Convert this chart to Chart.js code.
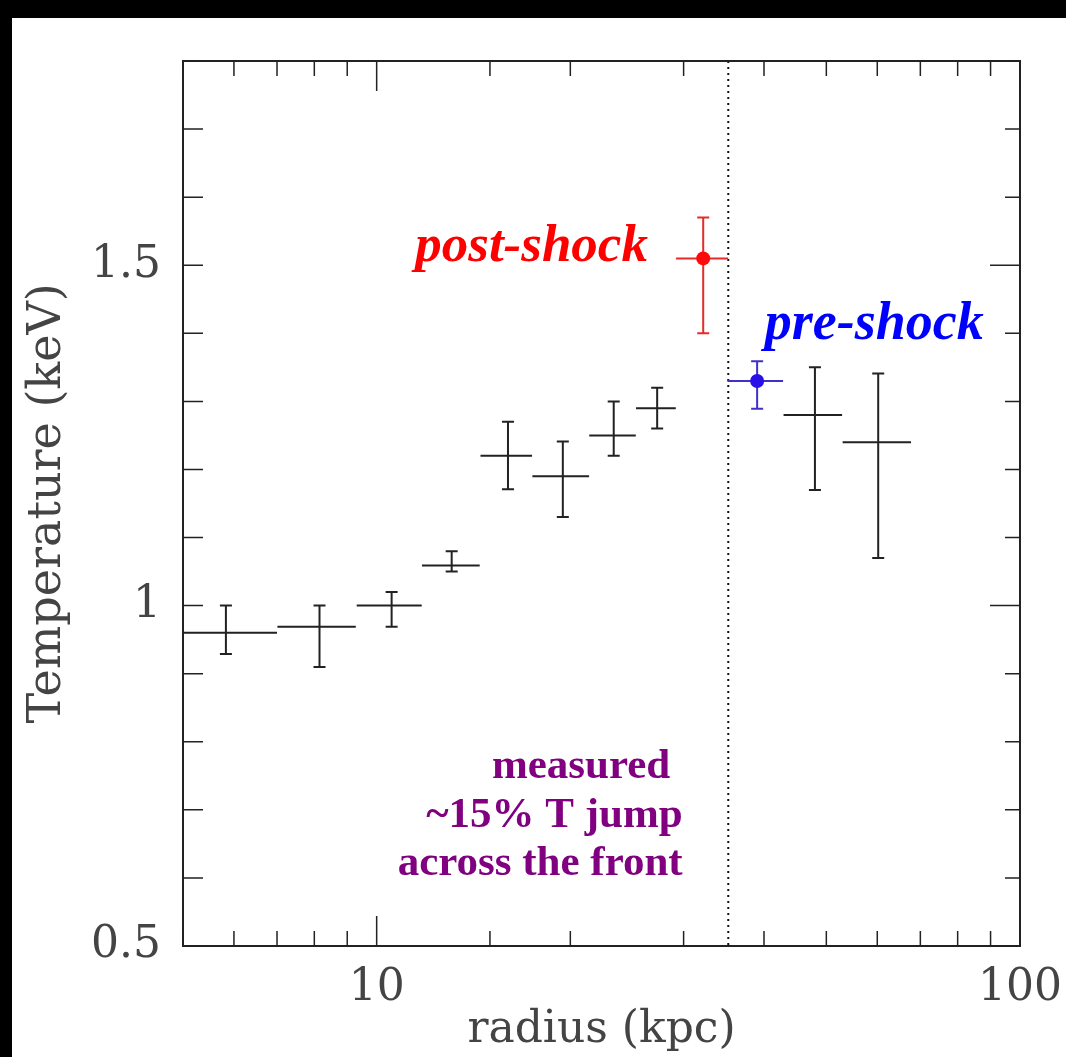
<!DOCTYPE html>
<html>
<head>
<meta charset="UTF-8">
<title>Temperature profile across the shock front</title>
<script src="https://cdn.jsdelivr.net/npm/chart.js"></script>
<style>
  html, body { margin: 0; padding: 0; background: #000; }
  canvas { display: block; }
</style>
</head>
<body>
<canvas id="tempChart" width="1066" height="1057"></canvas>
<script>
// radius (kpc) and temperature (keV) of the annuli
const radius     = [5.83, 8.15, 10.55, 13.08, 16.0, 19.47, 23.36, 27.29, 48.0, 60.2];
const radiusLow  = [4.9, 7.01, 9.31, 11.76, 14.5, 17.46, 21.4, 25.3, 42.9, 53.0];
const radiusHigh = [7.0, 9.28, 11.75, 14.46, 17.44, 21.39, 25.28, 29.17, 52.9, 67.7];
const temp       = [0.960, 0.969, 1.000, 1.059, 1.220, 1.190, 1.250, 1.290, 1.280, 1.240];
const tempLow    = [0.929, 0.910, 0.969, 1.050, 1.171, 1.130, 1.220, 1.260, 1.170, 1.070];
const tempHigh   = [1.000, 1.000, 1.020, 1.080, 1.270, 1.241, 1.300, 1.320, 1.350, 1.341];

// the two annuli on either side of the front
const postShock = { r: 32.18, rLow: 29.2, rHigh: 35.19, t: 1.51, tLow: 1.40, tHigh: 1.57 };
const preShock  = { r: 39.03, rLow: 35.1, rHigh: 42.83, t: 1.33, tLow: 1.289, tHigh: 1.359 };

const shockRadius = 35.2;
const xLabels = [10, 100];
const yLabels = [0.5, 1, 1.5];

const toPoints = (r, lo, hi, t, tlo, thi) =>
  r.map((v, i) => ({ x: v, y: t[i], xMin: lo[i], xMax: hi[i], yMin: tlo[i], yMax: thi[i] }));

const one = (p) => toPoints([p.r], [p.rLow], [p.rHigh], [p.t], [p.tLow], [p.tHigh]);

// white page with the black strip at top and left
const pageBackground = {
  id: 'pageBackground',
  beforeDraw(chart) {
    const ctx = chart.ctx;
    ctx.save();
    ctx.fillStyle = '#000';
    ctx.fillRect(0, 0, chart.width, chart.height);
    ctx.fillStyle = '#fff';
    ctx.fillRect(12, 18, chart.width - 12, chart.height - 18);
    ctx.restore();
  }
};

// crosses: horizontal bar = annulus width, vertical bar with caps = T error
const errorBars = {
  id: 'errorBars',
  beforeDatasetsDraw(chart) {
    const { ctx, chartArea: a, scales: { x, y } } = chart;
    ctx.save();
    ctx.beginPath();
    ctx.rect(a.left, a.top, a.right - a.left, a.bottom - a.top);
    ctx.clip();

    // dotted line at the shock front
    const sx = x.getPixelForValue(shockRadius);
    ctx.strokeStyle = '#111';
    ctx.lineWidth = 2;
    ctx.setLineDash([2, 4]);
    ctx.beginPath();
    ctx.moveTo(sx, a.top);
    ctx.lineTo(sx, a.bottom);
    ctx.stroke();
    ctx.setLineDash([]);

    chart.data.datasets.forEach(ds => {
      ctx.strokeStyle = ds.barColor;
      ctx.lineWidth = 2;
      ds.data.forEach(p => {
        const px = x.getPixelForValue(p.x), py = y.getPixelForValue(p.y);
        const x0 = x.getPixelForValue(p.xMin), x1 = x.getPixelForValue(p.xMax);
        const y0 = y.getPixelForValue(p.yMin), y1 = y.getPixelForValue(p.yMax);
        ctx.beginPath();
        ctx.moveTo(x0, py); ctx.lineTo(x1, py);
        ctx.moveTo(px, y0); ctx.lineTo(px, y1);
        ctx.moveTo(px - 6, y0); ctx.lineTo(px + 6, y0);
        ctx.moveTo(px - 6, y1); ctx.lineTo(px + 6, y1);
        ctx.stroke();
      });
    });
    ctx.restore();
  }
};

// frame with inward ticks on all four sides, plus the annotations
const frameAndNotes = {
  id: 'frameAndNotes',
  afterDraw(chart) {
    const { ctx, chartArea: a, scales: { x, y } } = chart;
    ctx.save();
    ctx.strokeStyle = '#222';
    ctx.lineWidth = 2;
    ctx.strokeRect(a.left, a.top, a.right - a.left, a.bottom - a.top);

    ctx.lineWidth = 1.5;
    ctx.beginPath();
    x.ticks.forEach(t => {
      const px = x.getPixelForValue(t.value);
      const len = xLabels.includes(t.value) ? 30 : 15;
      ctx.moveTo(px, a.bottom); ctx.lineTo(px, a.bottom - len);
      ctx.moveTo(px, a.top); ctx.lineTo(px, a.top + len);
    });
    y.ticks.forEach(t => {
      const py = y.getPixelForValue(t.value);
      const major = yLabels.some(v => Math.abs(v - t.value) < 1e-6);
      ctx.moveTo(a.left, py); ctx.lineTo(a.left + 20, py);
      ctx.moveTo(a.right, py); ctx.lineTo(a.right - (major ? 30 : 15), py);
    });
    ctx.stroke();

    const notes = [
      { text: 'post-shock', x: 26.4, y: 1.506, align: 'right', color: '#ff0000', font: 'italic bold 53px "Liberation Serif"' },
      { text: 'pre-shock', x: 40.1, y: 1.391, align: 'left', color: '#0000ff', font: 'italic bold 54px "Liberation Serif"' },
      { text: 'measured', x: 28.6, y: 0.747, align: 'right', color: '#800080', font: 'bold 43px "Liberation Serif"' },
      { text: '~15% T jump', x: 29.9, y: 0.675, align: 'right', color: '#800080', font: 'bold 43px "Liberation Serif"' },
      { text: 'across the front', x: 29.9, y: 0.604, align: 'right', color: '#800080', font: 'bold 43px "Liberation Serif"' }
    ];
    ctx.textBaseline = 'alphabetic';
    notes.forEach(n => {
      ctx.font = n.font;
      ctx.fillStyle = n.color;
      ctx.textAlign = n.align;
      ctx.fillText(n.text, x.getPixelForValue(n.x), y.getPixelForValue(n.y));
    });
    ctx.restore();
  }
};

const axisFont = { family: 'DejaVu Serif', size: 44, weight: 'normal' };

new Chart(document.getElementById('tempChart'), {
  type: 'scatter',
  data: {
    datasets: [
      {
        label: 'annuli',
        data: toPoints(radius, radiusLow, radiusHigh, temp, tempLow, tempHigh),
        pointRadius: 0,
        barColor: '#222'
      },
      {
        label: 'post-shock',
        data: one(postShock),
        pointRadius: 7,
        pointBackgroundColor: '#ff0a0a',
        pointBorderWidth: 0,
        barColor: '#e52a2a'
      },
      {
        label: 'pre-shock',
        data: one(preShock),
        pointRadius: 7,
        pointBackgroundColor: '#2a10e8',
        pointBorderWidth: 0,
        barColor: '#4030c8'
      }
    ]
  },
  options: {
    responsive: false,
    animation: false,
    devicePixelRatio: 1,
    layout: { padding: { top: 61, right: 46, left: 0, bottom: 0 } },
    plugins: {
      legend: { display: false },
      tooltip: { enabled: false }
    },
    scales: {
      x: {
        type: 'logarithmic',
        min: 5,
        max: 100,
        grid: { display: false, drawTicks: false },
        border: { display: false },
        ticks: {
          autoSkip: false,
          maxRotation: 0,
          padding: 16,
          color: '#444',
          font: axisFont,
          callback: (v) => xLabels.includes(v) ? String(v) : ''
        },
        title: {
          display: true,
          text: 'radius (kpc)',
          color: '#444',
          font: axisFont,
          padding: { top: 0, bottom: 0 }
        },
        afterFit: (scale) => {
          scale.height = 111;
          scale.paddingLeft = 0;
          scale.paddingRight = 0;
        }
      },
      y: {
        type: 'linear',
        min: 0.5,
        max: 1.8,
        grid: { display: false, drawTicks: false },
        border: { display: false },
        ticks: {
          stepSize: 0.1,
          autoSkip: false,
          padding: 22,
          color: '#444',
          font: axisFont,
          callback: (v) => {
            const hit = yLabels.find(l => Math.abs(l - v) < 1e-6);
            return hit === undefined ? '' : String(hit);
          }
        },
        title: {
          display: true,
          text: 'Temperature (keV)',
          color: '#444',
          font: { family: 'DejaVu Serif', size: 46, weight: 'normal' },
          padding: { top: 20, bottom: 0 }
        },
        afterFit: (scale) => {
          scale.width = 183;
          scale.paddingTop = 0;
          scale.paddingBottom = 0;
        }
      }
    }
  },
  plugins: [pageBackground, errorBars, frameAndNotes]
});
</script>
</body>
</html>
